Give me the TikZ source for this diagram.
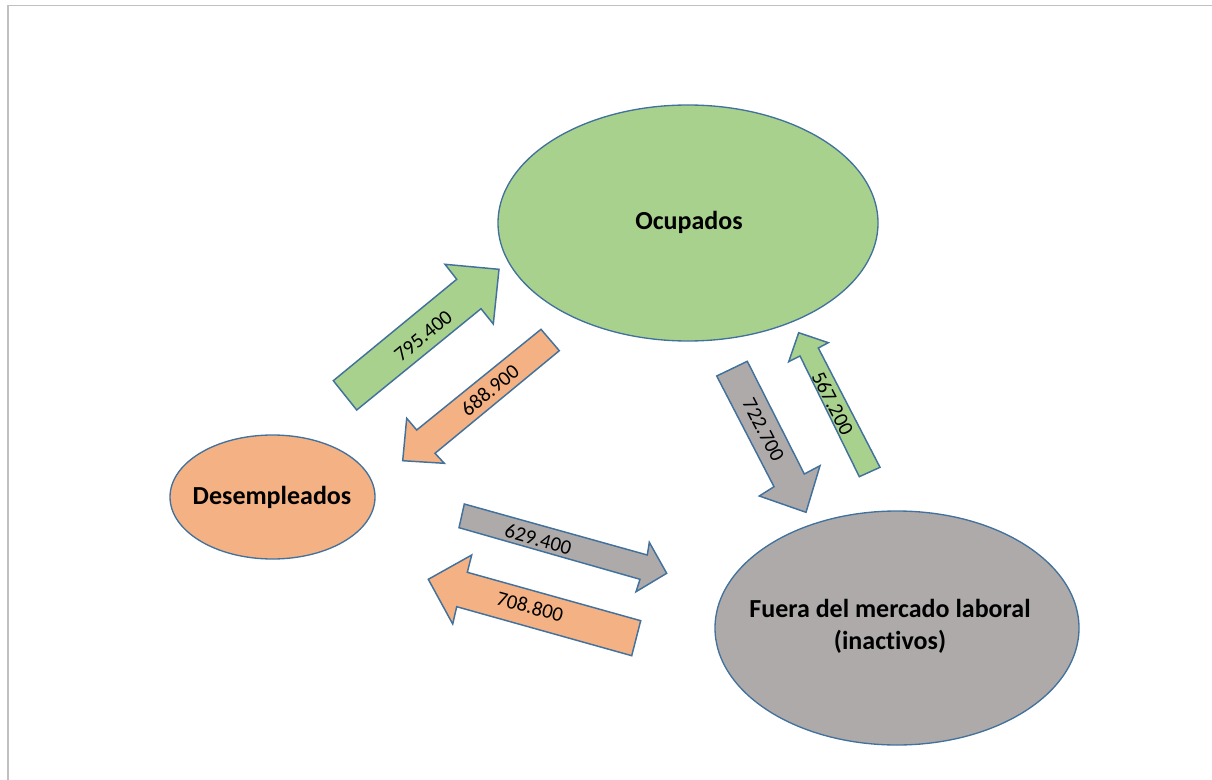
\documentclass[tikz,border=0pt]{standalone}
\usepackage{fontspec}
\setmainfont{Carlito}[Ligatures=NoCommon]
\usetikzlibrary{shapes.geometric}
\definecolor{cgreen}{HTML}{A9D18E}
\definecolor{corange}{HTML}{F4B183}
\definecolor{cgray}{HTML}{AEAAAA}
\definecolor{cedge}{HTML}{41719C}
\definecolor{cframe}{HTML}{C0C0C0}
\begin{document}
\begin{tikzpicture}[x=0.75pt,y=-0.75pt,
  state/.style={ellipse, draw=cedge, line width=1pt, inner sep=0pt},
  statetext/.style={inner sep=0pt, align=center, font=\fontsize{19.5}{24}\selectfont\bfseries},
  blockarrow/.style={draw=cedge, line width=1.1pt, line join=miter},
  num/.style={inner sep=0pt, font=\fontsize{15.5}{18}\selectfont}]
\useasboundingbox (0,0) rectangle (1212,780);
\draw[cframe, line width=1.2pt] (8,780) -- (8,5.5) -- (1212,5.5);

\node[state, fill=cgreen, minimum width=285pt, minimum height=177pt] (ocu) at (688,223) {};
\node[statetext] (ocut) at (689,222) {Ocupados};
\node[state, fill=corange, minimum width=153.75pt, minimum height=93pt] (des) at (272.5,497) {};
\node[statetext] (dest) at (272,497) {Desempleados};
\node[state, fill=cgray, minimum width=273pt, minimum height=175.5pt] (fue) at (897,628) {};
\node[statetext] (fuet) at (890,626) {Fuera del mercado laboral\\(inactivos)};

% 795.400 green, Desempleados -> Ocupados
\filldraw[blockarrow, fill=cgreen] (333.3,380.7) -- (456.7,279.3) -- (445,264.3) -- (499,269.3) -- (493.3,324) -- (481,308.7) -- (356.7,410) -- cycle;
\node[num, rotate=39.3] (a1) at (423.3,336) {795.400};

% 688.900 orange, Ocupados -> Desempleados
\filldraw[blockarrow, fill=corange] (541,329.3) -- (559.3,350.7) -- (435,453.3) -- (444.3,463.3) -- (402.7,460.7) -- (406.7,418.3) -- (416.7,430) -- cycle;
\node[num, rotate=39.5] (a2) at (490,390) {688.900};

% 722.700 gray, Ocupados -> Fuera
\filldraw[blockarrow, fill=cgray] (716.7,376) -- (747.3,361.3) -- (804.3,474) -- (820,465.7) -- (806,512.3) -- (759.3,496) -- (774,486.7) -- cycle;
\node[num, rotate=-62.6] (a3) at (763.3,430) {722.700};

% 567.200 green, Fuera -> Ocupados
\filldraw[blockarrow, fill=cgreen] (798.7,332.7) -- (828.3,342.7) -- (818.3,348) -- (880,467.3) -- (859.3,476.7) -- (800,356) -- (788.7,361.7) -- cycle;
\node[num, rotate=-63] (a4) at (832.7,403.3) {567.200};

% 629.400 gray, Desempleados -> Fuera
\filldraw[blockarrow, fill=cgray] (464.3,504) -- (647.3,555) -- (649.3,542.3) -- (666.7,573.3) -- (636,591.7) -- (640,579.3) -- (459,527.7) -- cycle;
\node[num, rotate=-15.5] (a5) at (538.3,539.3) {629.400};

% 708.800 orange, Fuera -> Desempleados
\filldraw[blockarrow, fill=corange] (428.3,579.3) -- (471.7,555) -- (467.3,572.3) -- (640.7,620.7) -- (631.7,655.7) -- (456.7,606.7) -- (452.7,624) -- cycle;
\node[num, rotate=-15.5] (a6) at (530,606.7) {708.800};
\end{tikzpicture}
\end{document}
